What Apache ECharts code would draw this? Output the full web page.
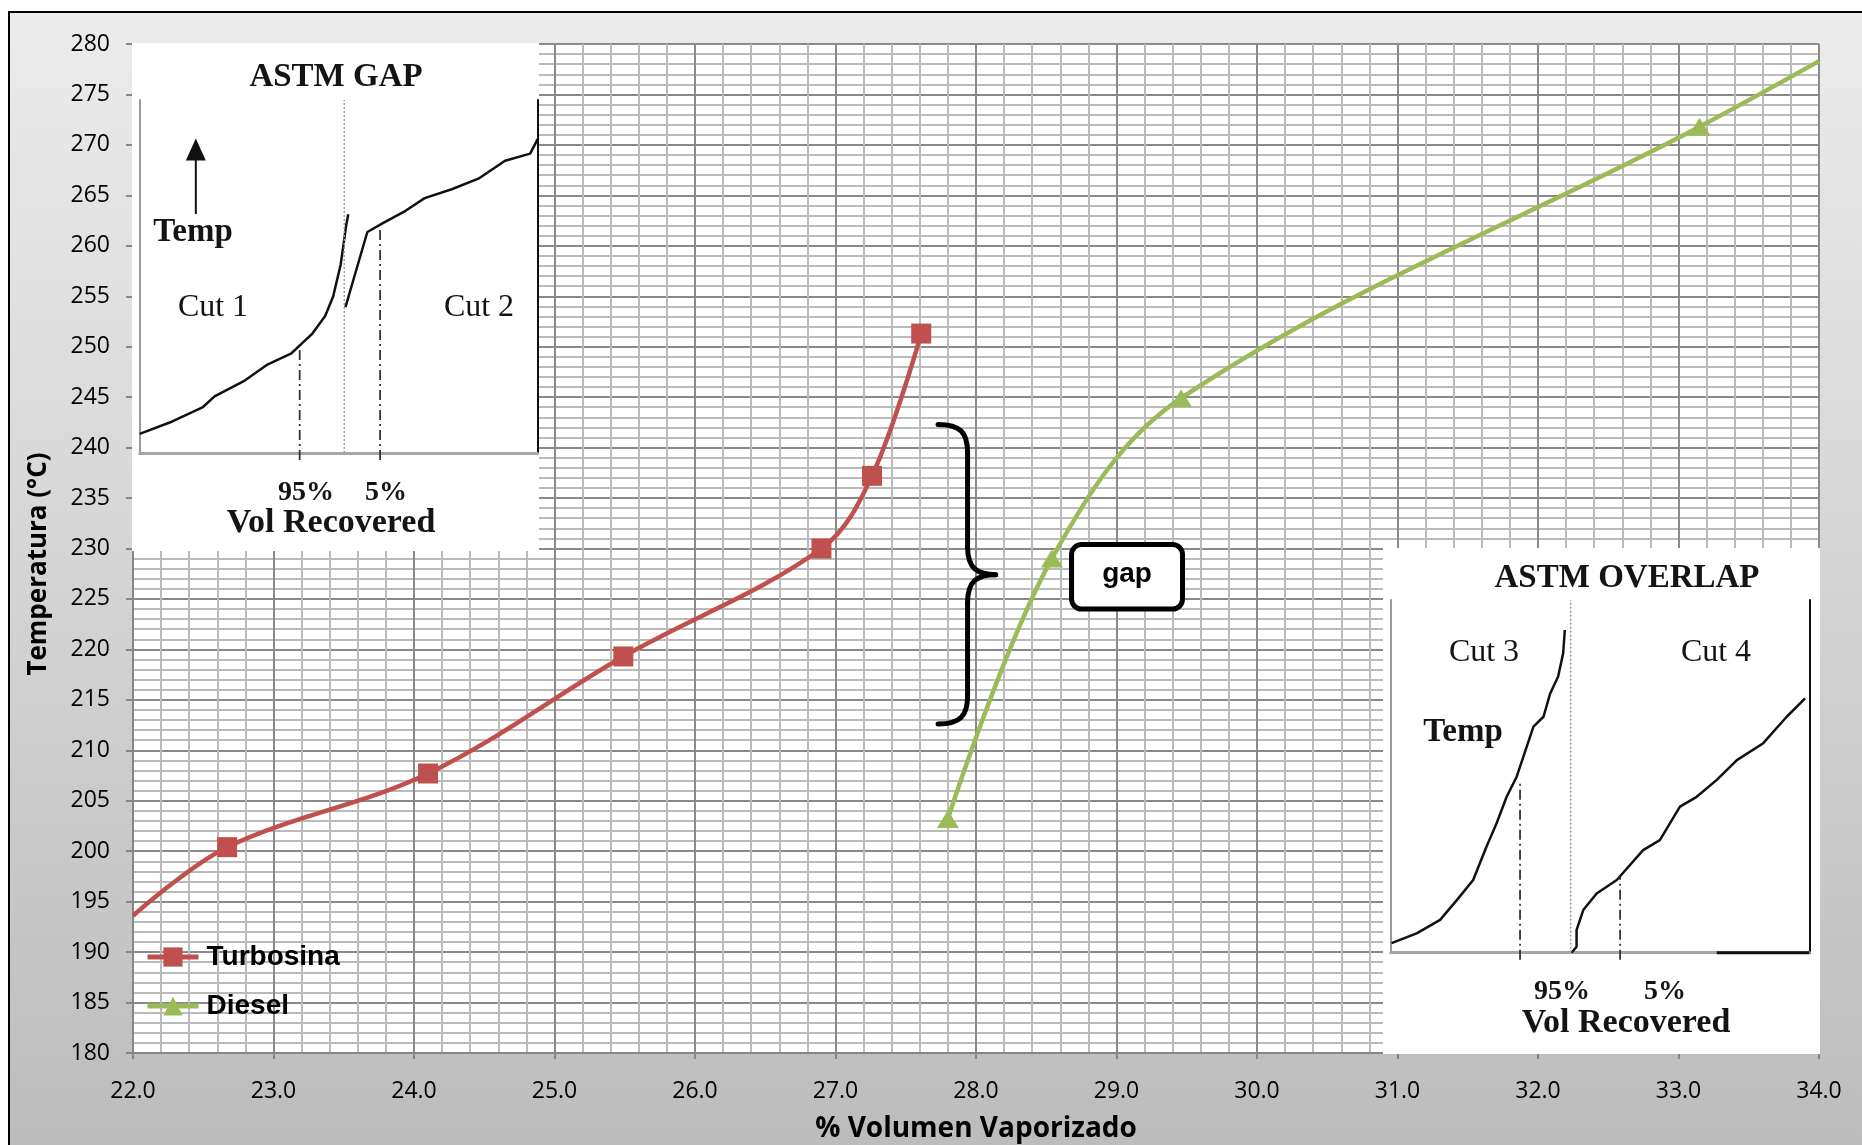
<!DOCTYPE html>
<html><head><meta charset="utf-8">
<script src="https://cdn.jsdelivr.net/npm/echarts@6/dist/echarts.min.js"></script>
<style>
html,body{margin:0;padding:0;background:#fff;overflow:hidden;}
#frame{position:absolute;left:8px;top:11px;width:1900px;height:1140px;border-left:2px solid #000;border-top:2px solid #000;background:linear-gradient(to bottom,#ececec 0%,#bcbcbc 100%);}
#chart{position:absolute;left:0;top:0;width:1862px;height:1145px;}
</style></head><body>
<div id="frame"></div><div id="chart"></div>
<script>
// ---- main chart data ----
const xMin = 22, xMax = 34, xStep = 1;
const yMin = 180, yMax = 280, yStep = 5;
const turbosinaX = [22.0, 22.67, 24.10, 25.49, 26.90, 27.26, 27.61];
const turbosinaY = [193.6, 200.4, 207.7, 219.3, 230.0, 237.2, 251.3];
const dieselX = [27.80, 28.54, 29.46, 33.15, 34.0];
const dieselY = [203.2, 229.0, 244.9, 271.8, 278.3];
const seriesNames = ['Turbosina', 'Diesel'];
const xTitle = '% Volumen Vaporizado';
const yTitle = 'Temperatura (°C)';

// gap annotation (data coordinates)
const braceY = [242.3, 227.4, 212.6];           // top, middle, bottom
const braceX = [27.73, 27.94, 28.14];           // tips, spine, point
const gapBoxX = [28.68, 29.47];
const gapBoxY = [230.4, 224.0];
const gapLabel = 'gap';

// ---- inset illustrations (local 0..100 units) ----
const gapCut1X = [0, 8.2, 15.9, 18.8, 26.4, 32.2, 38.0, 40.9, 43.3, 46.6, 48.6, 50.5, 51.9, 52.4];
const gapCut1Y = [5.4, 8.9, 13.0, 16.0, 20.5, 25.1, 28.1, 31.2, 33.7, 38.8, 44.3, 53.4, 64.6, 67.6];
const gapCut2X = [51.7, 54.3, 57.2, 61.1, 66.8, 71.6, 78.4, 85.1, 91.8, 98.1, 100];
const gapCut2Y = [41.3, 51.4, 62.6, 65.1, 68.6, 72.2, 74.7, 77.7, 82.8, 84.8, 88.9];
const gapDashX = [40.2, 60.4];
const gapDashTop = [30.3, 63.2];
const gapDotX = 51.4;
const gapArrowX = 14.1, gapArrowY = [67.7, 86.0];

const ovCut3X = [0.2, 6.2, 11.8, 15.8, 19.7, 22.9, 25.3, 27.7, 30.1, 31.7, 34.1, 36.5, 38.1, 40.0, 41.2, 41.6];
const ovCut3Y = [2.7, 5.5, 9.3, 14.9, 20.6, 30.1, 36.7, 44.2, 49.9, 55.6, 64.1, 66.9, 73.5, 78.3, 84.9, 91.5];
const ovCut4X = [43.2, 44.4, 44.4, 46.0, 49.2, 54.0, 60.3, 64.3, 69.1, 73.1, 77.9, 82.7, 89.0, 94.6, 99.0];
const ovCut4Y = [0, 1.7, 6.4, 12.1, 16.8, 20.6, 29.1, 31.9, 41.4, 44.2, 49.0, 54.6, 59.4, 66.9, 72.1];
const ovDashX = [30.9, 54.8];
const ovDashTop = [48.0, 21.5];
const ovDotX = 43.0;
const ovBlackBase = [77.9, 100];

const gapTexts = [
  {t: 'ASTM GAP', x: 336, y: 77, s: 33, b: true},
  {t: 'Temp', x: 193, y: 232, s: 33, b: true},
  {t: 'Cut 1', x: 213, y: 308, s: 32, b: false},
  {t: 'Cut 2', x: 479, y: 308, s: 32, b: false},
  {t: '95%', x: 306, y: 493, s: 28, b: true},
  {t: '5%', x: 386, y: 493, s: 28, b: true},
  {t: 'Vol Recovered', x: 331, y: 523, s: 34, b: true}
];
const ovTexts = [
  {t: 'ASTM OVERLAP', x: 1627, y: 578, s: 33, b: true},
  {t: 'Cut 3', x: 1484, y: 653, s: 32, b: false},
  {t: 'Cut 4', x: 1716, y: 653, s: 32, b: false},
  {t: 'Temp', x: 1463, y: 732, s: 33, b: true},
  {t: '95%', x: 1562, y: 992, s: 28, b: true},
  {t: '5%', x: 1665, y: 992, s: 28, b: true},
  {t: 'Vol Recovered', x: 1626, y: 1023, s: 34, b: true}
];

const pairs = (xs, ys) => xs.map((x, i) => [x, ys[i]]);
const RED = '#C0504D', GREEN = '#9BBB59';
const LABEL_FONT = 'Open Sans';

const chart = echarts.init(document.getElementById('chart'), null, {renderer: 'canvas'});

function insetAxes(gi) {
  const hidden = {show: false};
  return {
    x: {gridIndex: gi, type: 'value', min: 0, max: 100, z: 3,
        axisLine: {show: true, onZero: false, lineStyle: {color: '#a6a6a6', width: 3}},
        axisTick: hidden, axisLabel: hidden, splitLine: hidden},
    yl: {gridIndex: gi, type: 'value', min: 0, max: 100, position: 'left', z: 3,
        axisLine: {show: true, onZero: false, lineStyle: {color: '#9a9a9a', width: 2}},
        axisTick: hidden, axisLabel: hidden, splitLine: hidden},
    yr: {gridIndex: gi, type: 'value', min: 0, max: 100, position: 'right', z: 3,
        axisLine: {show: true, onZero: false, lineStyle: {color: '#111', width: 2}},
        axisTick: hidden, axisLabel: hidden, splitLine: hidden}
  };
}
const gA = insetAxes(1), oA = insetAxes(2);

function curve(xi, yi, xs, ys) {
  return {type: 'line', xAxisIndex: xi, yAxisIndex: yi, data: pairs(xs, ys), symbol: 'none',
          lineStyle: {color: '#111', width: 2.5}, z: 4, silent: true};
}
function vline(xi, yi, x, top, style, bottom) {
  return {type: 'line', xAxisIndex: xi, yAxisIndex: yi, data: [[x, bottom === undefined ? -2 : bottom], [x, top]],
          symbol: 'none', clip: false, lineStyle: style, z: 4, silent: true};
}
const dashDot = {color: '#333', width: 1.8, type: [10, 4, 2, 4]};
const dotted = {color: '#9a9a9a', width: 1.5, type: [2, 2]};

const option = {
  animation: false,
  textStyle: {fontFamily: LABEL_FONT},
  grid: [
    {left: 133, top: 44, width: 1686, height: 1009, show: true, backgroundColor: '#fff', borderWidth: 0,
     containLabel: false, outerBoundsMode: 'none'},
    {left: 139.7, top: 100, width: 398, height: 352.9, outerBoundsMode: 'none'},
    {left: 1390.7, top: 600, width: 418.6, height: 352.7, outerBoundsMode: 'none'}
  ],
  legend: {
    data: seriesNames, orient: 'vertical', left: 145, top: 943, padding: 0,
    itemWidth: 51, itemHeight: 24, itemGap: 21,
    lineStyle: {width: 5},
    textStyle: {fontFamily: 'Liberation Sans', fontWeight: 'bold', fontSize: 28, color: '#000', padding: [0, 0, 0, 3]}
  },
  xAxis: [
    {gridIndex: 0, type: 'value', min: xMin, max: xMax, interval: xStep,
     name: xTitle, nameLocation: 'middle', nameGap: 62,
     nameTextStyle: {fontFamily: LABEL_FONT, fontWeight: 'bold', fontSize: 28, color: '#000'},
     axisLine: {show: true, onZero: false, lineStyle: {color: '#868686', width: 2}},
     axisTick: {show: true, length: 6, lineStyle: {color: '#868686', width: 2}},
     axisLabel: {margin: 27, fontSize: 23, color: '#000', fontFamily: LABEL_FONT, formatter: v => v.toFixed(1)},
     splitLine: {show: true, lineStyle: {color: '#8a8a8a', width: 2}},
     minorTick: {show: false, splitNumber: 5},
     minorSplitLine: {show: true, lineStyle: {color: '#bababa', width: 2}}},
    gA.x, oA.x
  ],
  yAxis: [
    {gridIndex: 0, type: 'value', min: yMin, max: yMax, interval: yStep,
     axisLine: {show: true, onZero: false, lineStyle: {color: '#868686', width: 2}},
     axisTick: {show: true, length: 7, lineStyle: {color: '#868686', width: 2}},
     axisLabel: {margin: 23, fontSize: 23, color: '#000', fontFamily: LABEL_FONT},
     splitLine: {show: true, lineStyle: {color: '#8a8a8a', width: 2}},
     minorTick: {show: false, splitNumber: 5},
     minorSplitLine: {show: true, lineStyle: {color: '#bababa', width: 2}}},
    gA.yl, gA.yr, oA.yl, oA.yr
  ],
  series: [
    {type: 'line', name: seriesNames[0], xAxisIndex: 0, yAxisIndex: 0,
     data: turbosinaX.map((x, i) => i === 0 ? {value: [x, turbosinaY[i]], symbol: 'none'} : [x, turbosinaY[i]]),
     smooth: 0.35, symbol: 'rect', symbolSize: 20,
     lineStyle: {color: RED, width: 4.5}, itemStyle: {color: RED}, z: 5},
    {type: 'line', name: seriesNames[1], xAxisIndex: 0, yAxisIndex: 0,
     data: dieselX.map((x, i) => i === dieselX.length - 1 ? {value: [x, dieselY[i]], symbol: 'none'} : [x, dieselY[i]]),
     smooth: 0.35, symbol: 'triangle', symbolSize: [22, 18],
     lineStyle: {color: GREEN, width: 4.5}, itemStyle: {color: GREEN}, z: 5},
    // ASTM GAP inset
    curve(1, 1, gapCut1X, gapCut1Y),
    curve(1, 1, gapCut2X, gapCut2Y),
    vline(1, 1, gapDashX[0], gapDashTop[0], dashDot),
    vline(1, 1, gapDashX[1], gapDashTop[1], dashDot),
    vline(1, 1, gapDotX, 100, dotted, 0),
    {type: 'line', xAxisIndex: 1, yAxisIndex: 1,
     data: [{value: [gapArrowX, gapArrowY[0]], symbol: 'none'}, {value: [gapArrowX, gapArrowY[1]], symbol: 'triangle', symbolSize: [20, 22]}],
     lineStyle: {color: '#111', width: 2}, itemStyle: {color: '#111'}, z: 4, silent: true},
    // ASTM OVERLAP inset (x axis 2, left y axis 3)
    curve(2, 3, ovCut3X, ovCut3Y),
    curve(2, 3, ovCut4X, ovCut4Y),
    vline(2, 3, ovDashX[0], ovDashTop[0], dashDot),
    vline(2, 3, ovDashX[1], ovDashTop[1], dashDot),
    vline(2, 3, ovDotX, 100, dotted, 0),
    {type: 'line', xAxisIndex: 2, yAxisIndex: 3, data: [[ovBlackBase[0], 0], [ovBlackBase[1], 0]], symbol: 'none',
     clip: false, lineStyle: {color: '#111', width: 3}, z: 4, silent: true}
  ]
};
chart.setOption(option);

// ---- annotations ----
const P = (x, y) => chart.convertToPixel({xAxisIndex: 0, yAxisIndex: 0}, [x, y]);
const [tipX, topY] = P(braceX[0], braceY[0]);
const [spX, midY] = P(braceX[1], braceY[1]);
const [ptX] = P(braceX[2], braceY[1]);
const botY = P(braceX[0], braceY[2])[1];
const bs = {stroke: '#000', lineWidth: 5, fill: null, lineCap: 'round'};
const r = 28;
const brace = [
  {type: 'bezierCurve', shape: {x1: tipX, y1: topY, cpx1: tipX + 22, cpy1: topY, cpx2: spX, cpy2: topY + 8, x2: spX, y2: topY + r}, style: bs, z: 20},
  {type: 'line', shape: {x1: spX, y1: topY + r, x2: spX, y2: midY - r}, style: bs, z: 20},
  {type: 'bezierCurve', shape: {x1: spX, y1: midY - r, cpx1: spX, cpy1: midY - 6, cpx2: spX + 10, cpy2: midY, x2: ptX, y2: midY}, style: bs, z: 20},
  {type: 'bezierCurve', shape: {x1: ptX, y1: midY, cpx1: spX + 10, cpy1: midY, cpx2: spX, cpy2: midY + 6, x2: spX, y2: midY + r}, style: bs, z: 20},
  {type: 'line', shape: {x1: spX, y1: midY + r, x2: spX, y2: botY - r}, style: bs, z: 20},
  {type: 'bezierCurve', shape: {x1: spX, y1: botY - r, cpx1: spX, cpy1: botY - 8, cpx2: tipX + 22, cpy2: botY, x2: tipX, y2: botY}, style: bs, z: 20}
];
const [bx1, by1] = P(gapBoxX[0], gapBoxY[0]);
const [bx2, by2] = P(gapBoxX[1], gapBoxY[1]);
const gapBox = [
  {type: 'rect', shape: {x: bx1, y: by1, width: bx2 - bx1, height: by2 - by1, r: 10},
   style: {fill: '#fff', stroke: '#000', lineWidth: 5}, z: 20},
  {type: 'text', x: (bx1 + bx2) / 2, y: (by1 + by2) / 2 - 2,
   style: {text: gapLabel, font: 'bold 28px "Liberation Sans"', fill: '#000', align: 'center', verticalAlign: 'middle'}, z: 21}
];
const texts = gapTexts.concat(ovTexts).map(o => ({
  type: 'text', x: o.x, y: o.y, z: 10,
  style: {text: o.t, font: (o.b ? 'bold ' : '') + o.s + 'px "Liberation Serif"', fill: '#141414', align: 'center', verticalAlign: 'middle'}
}));
const insetBoxes = [
  {type: 'rect', shape: {x: 132, y: 43, width: 407, height: 508}, style: {fill: '#fff'}, z: 1},
  {type: 'rect', shape: {x: 1383, y: 548, width: 437, height: 506}, style: {fill: '#fff'}, z: 1}
];
const yTitleEl = {type: 'text', x: 39, y: 564, rotation: Math.PI / 2, z: 10,
  style: {text: yTitle, font: 'bold 26px "Open Sans"', fill: '#000', align: 'center', verticalAlign: 'middle'}};

chart.setOption({graphic: {elements: insetBoxes.concat(brace, gapBox, texts, [yTitleEl])}});
</script>
</body></html>
